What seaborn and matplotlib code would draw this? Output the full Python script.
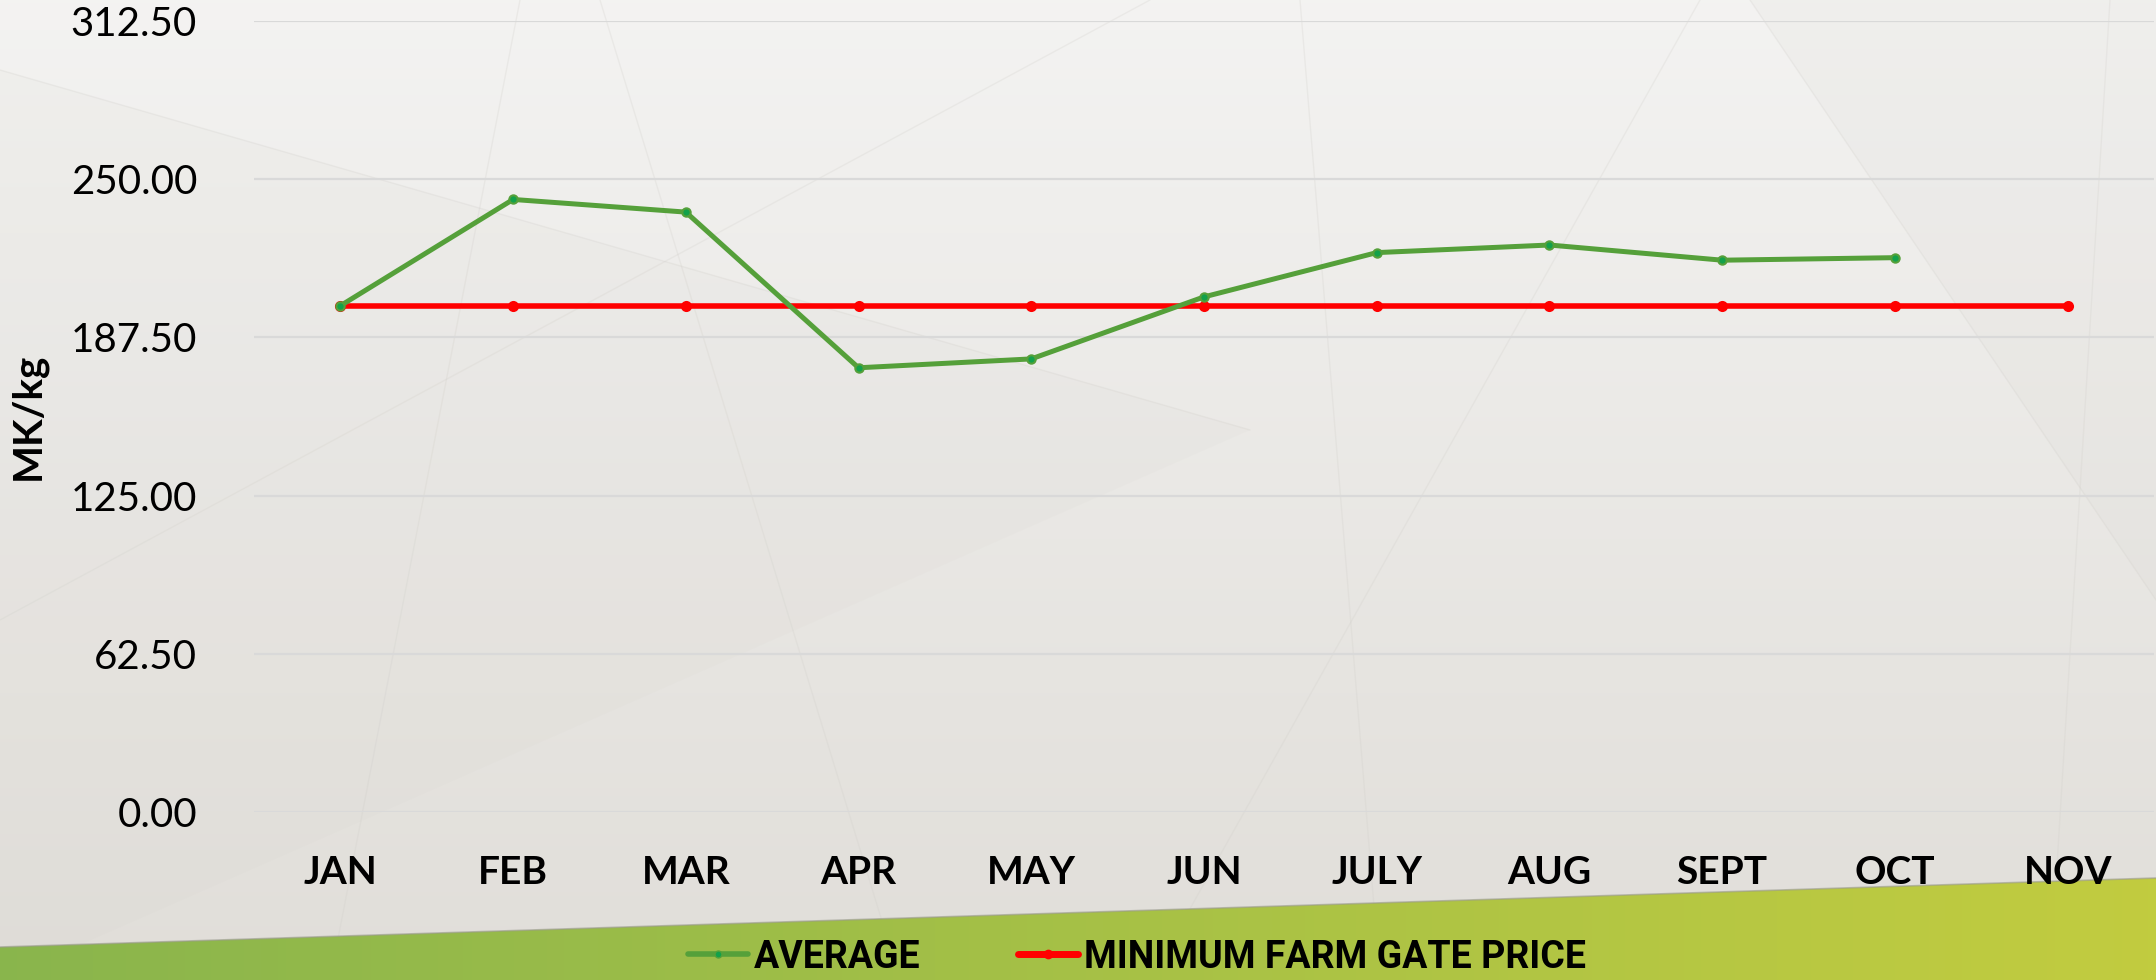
import numpy as np
import pandas as pd
import seaborn as sns
import matplotlib.pyplot as plt
from matplotlib.patches import Polygon
from matplotlib.lines import Line2D

# data
months = ["JAN", "FEB", "MAR", "APR", "MAY", "JUN", "JULY", "AUG", "SEPT", "OCT", "NOV"]
average = [200.0, 242.0, 237.0, 175.5, 179.0, 203.5, 221.0, 224.0, 218.0, 219.0, np.nan]
min_farm_gate = [200.0] * 11
y_ticks = [0.0, 62.5, 125.0, 187.5, 250.0, 312.5]

GREEN = "#55A03A"
RED = "#FF0000"

sns.set_theme(style="white")
plt.rcParams["font.family"] = ["Lato", "DejaVu Sans"]
plt.rcParams["text.color"] = "black"

fig = plt.figure(figsize=(21.56, 9.8), dpi=100)

# background: light grey gradient + sloped green band
bg = fig.add_axes([0, 0, 1, 1], zorder=-5)
bg.set_xlim(0, 2156)
bg.set_ylim(980, 0)
bg.axis("off")
grad = np.linspace(0, 1, 256)[:, None]
grey = np.array([0.955, 0.953, 0.948]) * (1 - grad[..., None]) + np.array([0.88, 0.87, 0.85]) * grad[..., None]
grey = np.repeat(grey, 2, axis=1)
bg.imshow(grey, extent=[0, 2156, 980, 0], aspect="auto", zorder=0)

# faint facets in the backdrop
for (x0, y0, x1, y1) in [(0, 70, 1250, 430), (520, 0, 330, 980), (600, 0, 900, 980),
                         (1300, 0, 1380, 980), (1750, 0, 2156, 600), (0, 620, 1150, 0),
                         (2110, 0, 2050, 980), (1150, 980, 1700, 0)]:
    bg.plot([x0, x1], [y0, y1], color="#D0CEC9", lw=1.0, alpha=0.25, zorder=1)
bg.add_patch(Polygon([[0, 70], [1250, 430], [0, 980]], closed=True,
                     facecolor="#CFCBC4", edgecolor="none", alpha=0.08, zorder=1))
bg.add_patch(Polygon([[1750, 0], [2156, 0], [2156, 600]], closed=True,
                     facecolor="#D6D3CE", edgecolor="none", alpha=0.12, zorder=1))

band = Polygon([[0, 947], [2156, 878], [2156, 980], [0, 980]], closed=True,
               facecolor="none", edgecolor="none")
bg.add_patch(band)
gx = np.linspace(0, 1, 256)[None, :]
left_c = np.array([0.54, 0.71, 0.30])
right_c = np.array([0.76, 0.80, 0.25])
green_img = left_c * (1 - gx[..., None]) + right_c * gx[..., None]
green_img = np.repeat(green_img, 2, axis=0)
im = bg.imshow(green_img, extent=[0, 2156, 980, 860], aspect="auto", zorder=2)
im.set_clip_path(band)
bg.plot([0, 2156], [947, 878], color="#9A9A8E", lw=1.2, alpha=0.6, zorder=3)

# main chart
ax = fig.add_axes([254 / 2156, 1 - 812 / 980, 1900 / 2156, 791 / 980])
ax.set_facecolor("none")

df = pd.DataFrame({
    "month": months * 2,
    "value": average + min_farm_gate,
    "series": ["AVERAGE"] * 11 + ["MINIMUM FARM GATE PRICE"] * 11,
})

sns.lineplot(data=df[df.series == "MINIMUM FARM GATE PRICE"], x="month", y="value",
             color=RED, lw=4.0, marker="o", markersize=8, markeredgewidth=0,
             sort=False, ax=ax, zorder=3)
sns.lineplot(data=df[df.series == "AVERAGE"].dropna(), x="month", y="value",
             color=GREEN, lw=3.6, marker="o", markersize=6, markerfacecolor="#12A14A",
             markeredgecolor=GREEN, markeredgewidth=1.5, sort=False, ax=ax, zorder=4)

ax.set_xlim(-0.5, len(months) - 0.5)
ax.set_ylim(0, 312.5)
ax.set_yticks(y_ticks)
ax.set_yticklabels([f"{v:.2f}" for v in y_ticks], fontsize=29, color="black")
ax.set_xticks(range(len(months)))
ax.set_xticklabels(months, fontsize=28, fontweight="bold", color="black")
ax.tick_params(axis="y", length=0, pad=41)
ax.tick_params(axis="x", length=0, pad=31)
ax.grid(axis="y", color="#D9D9D9", lw=1.6)
ax.grid(axis="x", visible=False)
for s in ax.spines.values():
    s.set_visible(False)
ax.set_xlabel("")
ax.set_ylabel("")
if ax.get_legend():
    ax.get_legend().remove()

fig.text(28 / 2156, 1 - 416 / 980, "MK/kg", rotation=90, ha="center", va="center",
         fontsize=29, fontweight="bold", color="black")

handles = [
    Line2D([], [], color=GREEN, lw=4, marker="o", markersize=5, markerfacecolor="#12A14A",
           markeredgecolor=GREEN),
    Line2D([], [], color=RED, lw=5, marker="o", markersize=7, markeredgewidth=0),
]
leg = fig.legend(handles, ["AVERAGE", "MINIMUM FARM GATE PRICE"], loc="center",
                 bbox_to_anchor=(1137 / 2156, 1 - 957 / 980), ncol=2, frameon=False,
                 handlelength=1.6, handletextpad=0.15, columnspacing=2.6,
                 prop={"family": "Roboto", "weight": "bold", "size": 27})
for t in leg.get_texts():
    t.set_color("black")

fig.savefig("out.png", dpi=100)
